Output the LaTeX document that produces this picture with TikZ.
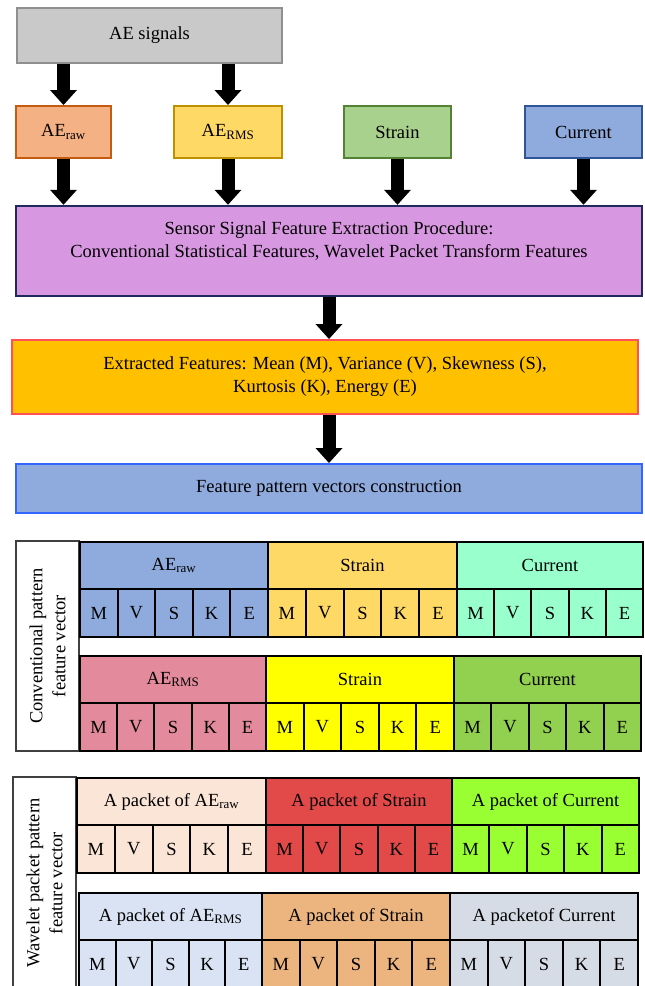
\documentclass[tikz,border=0pt]{standalone}
\usepackage{fontspec}
\setmainfont{Liberation Serif}
\usetikzlibrary{arrows.meta}
\definecolor{sigfill}{HTML}{C9C9C9}
\definecolor{sigline}{HTML}{8F8F8F}
\definecolor{rawfill}{HTML}{F4B183}
\definecolor{rawline}{HTML}{C55A11}
\definecolor{rmsfill}{HTML}{FFD966}
\definecolor{rmsline}{HTML}{BF9000}
\definecolor{strfill}{HTML}{A9D18E}
\definecolor{strline}{HTML}{548235}
\definecolor{curfill}{HTML}{8FAADC}
\definecolor{curline}{HTML}{2F5597}
\definecolor{senfill}{HTML}{D897E1}
\definecolor{senline}{HTML}{1F2A5C}
\definecolor{extfill}{HTML}{FFC000}
\definecolor{extline}{HTML}{FF5058}
\definecolor{featline}{HTML}{3366FF}
% block colours
\definecolor{cA}{HTML}{8FAADC}
\definecolor{cB}{HTML}{FFD966}
\definecolor{cC}{HTML}{99FFCC}
\definecolor{cD}{HTML}{E38B9C}
\definecolor{cE}{HTML}{FFFF00}
\definecolor{cF}{HTML}{92D050}
\definecolor{wA}{HTML}{FBE5D6}
\definecolor{wB}{HTML}{E24949}
\definecolor{wC}{HTML}{99FF33}
\definecolor{wD}{HTML}{DAE3F3}
\definecolor{wE}{HTML}{ECB47E}
\definecolor{wF}{HTML}{D6DCE5}
\begin{document}
\begin{tikzpicture}[x=1pt, y=-1pt,
  every node/.style={font=\fontsize{18.5}{23}\selectfont, inner sep=0pt},
  box/.style={draw, line width=2pt, minimum height=52pt},
  bigarrow/.style={line width=13pt, -{Triangle[width=27pt,length=15pt,line width=0pt]}},
  hcell/.style={draw=black, line width=2pt, minimum height=47pt, anchor=north west},
  vcell/.style={draw=black, line width=2pt, minimum height=48pt, anchor=north west},
  sidebox/.style={draw=black!75, line width=1.2pt, rotate=90, align=center}]
\clip (0,0) rectangle (645,986);
% flow chart
\node[box, fill=sigfill, draw=sigline, minimum width=265pt, minimum height=55pt] (sig) at (149.5,35.5) {AE signals};
\node[box, fill=rawfill, draw=rawline, minimum width=95pt] (raw) at (63.5,132) {AE\textsubscript{raw}};
\node[box, fill=rmsfill, draw=rmsline, minimum width=108pt] (rms) at (228,132) {AE\textsubscript{RMS}};
\node[box, fill=strfill, draw=strline, minimum width=107pt] (strain) at (397.5,132) {Strain};
\node[box, fill=curfill, draw=curline, minimum width=117pt] (current) at (583.5,132) {Current};
\node[box, fill=senfill, draw=senline, line width=2.5pt, minimum width=626pt, minimum height=90pt, align=center] (sensor) at (329,251)
  {Sensor Signal Feature Extraction Procedure:\\ Conventional Statistical Features, Wavelet Packet Transform Features\\ \mbox{}};
\node[box, fill=extfill, draw=extline, minimum width=626pt, minimum height=74pt, align=center] (extr) at (325,377)
  {Extracted Features: Mean (M), Variance (V), Skewness (S),\\ Kurtosis (K), Energy (E)};
\node[box, fill=curfill, draw=featline, minimum width=626pt, minimum height=49pt] (feat) at (329,488.5) {Feature pattern vectors construction};
\draw[bigarrow] (sig.south -| raw.north) -- (raw.north);
\draw[bigarrow] (sig.south -| rms.north) -- (rms.north);
\foreach \n in {raw,rms,strain,current}
  \draw[bigarrow] (\n.south) -- (\n.south |- sensor.north);
\draw[bigarrow] (sensor.south) -- (sensor.south |- extr.north);
\draw[bigarrow] (extr.south -| sensor.south) -- (feat.north -| sensor.south);
% side labels
\node[sidebox, minimum width=210pt, minimum height=63pt] (convside) at (47.5,646) {Conventional pattern\\feature vector};
\node[sidebox, minimum width=212pt, minimum height=63pt] (waveside) at (44.5,883) {Wavelet packet pattern\\feature vector};
% pattern vectors
\foreach \x/\y/\w/\c/\t/\n in {
  79/541/188/cA/{AE\textsubscript{raw}}/ca, 267/541/189/cB/{Strain}/cb, 456/541/186/cC/{Current}/cc,
  79/655/186/cD/{AE\textsubscript{RMS}}/cd, 265/655/188/cE/{Strain}/ce, 453/655/187/cF/{Current}/cf,
  76/777/189/wA/{A packet of AE\textsubscript{raw}}/wa, 265/777/186/wB/{A packet of Strain}/wb, 451/777/187/wC/{A packet of Current}/wc,
  78/892/183/wD/{A packet of AE\textsubscript{RMS}}/wd, 261/892/188/wE/{A packet of Strain}/we, 449/892/188/wF/{A packetof Current}/wf}
{
  \node[hcell, fill=\c, minimum width=\w] (\n) at (\x,\y) {\t};
  \foreach \l [count=\i] in {M,V,S,K,E}
    \node[vcell, fill=\c, minimum width=\w/5] (\n-\i) at ({\x+(\i-1)*\w/5},\y+47) {\l};
}
\end{tikzpicture}
\end{document}
